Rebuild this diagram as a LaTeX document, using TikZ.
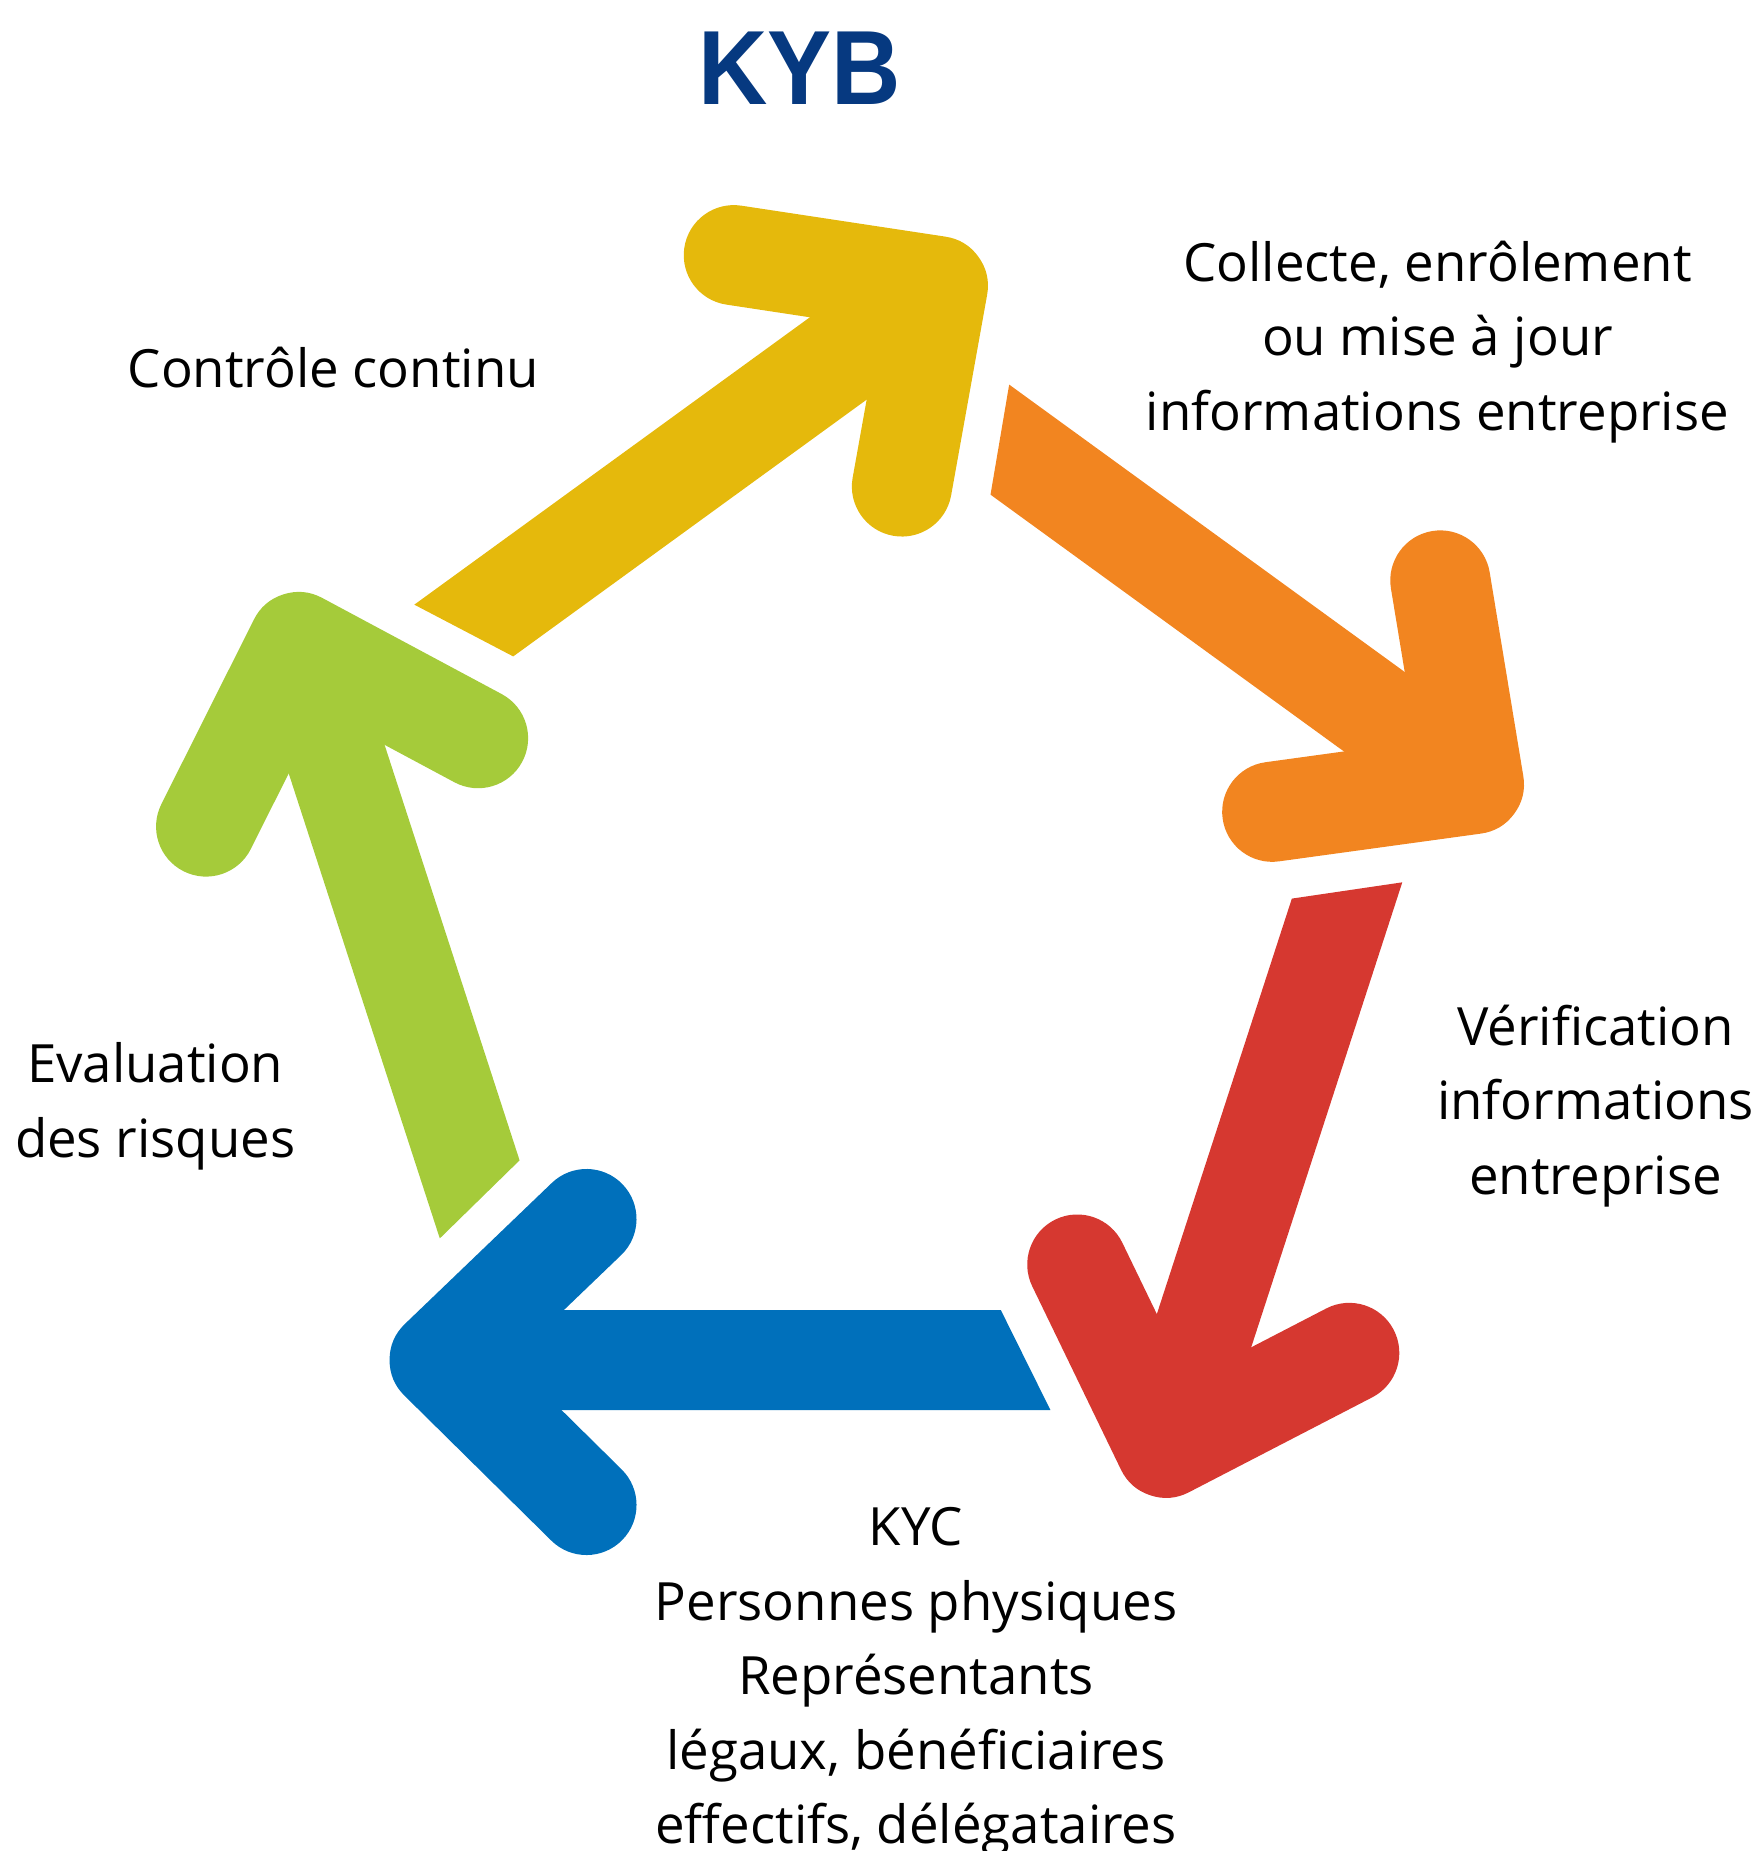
\documentclass[tikz,border=0pt]{standalone}
\usepackage{fontspec}
\setmainfont{Open Sans}
\newfontfamily\titlefont{Liberation Sans}[FakeStretch=0.91]
\definecolor{kybnavy}{RGB}{6,57,128}
\definecolor{kybblue}{RGB}{0,112,187}
\definecolor{kybred}{RGB}{214,56,48}
\definecolor{kyborange}{RGB}{242,133,32}
\definecolor{kybyellow}{RGB}{229,185,12}
\definecolor{kybgreen}{RGB}{165,203,58}

\begin{document}
\begin{tikzpicture}[x=0.01cm, y=0.01cm,
    steptext/.style={align=center, inner sep=0pt, font=\fontsize{15}{21.2}\selectfont},
    arrowarm/.style={line width=1cm, line cap=round, line join=round}]
    \useasboundingbox (-863.2,-947) rectangle (898.8,904);

    % Arrows: one shape, turned by 72 degrees for each step
    \foreach \ang/\col in {0/kybblue, 72/kybred, 144/kyborange, 216/kybyellow, 288/kybgreen} {
        \begin{scope}[rotate=\ang]
            \fill[\col] (-423.6,-406) -- (137.6,-406) -- (187.2,-506) -- (-423.6,-506) -- cycle;
            \draw[arrowarm, \col] (-276.7,-315) -- (-423.6,-456) -- (-276.7,-601);
        \end{scope}
    }

    % Title
    \node[font=\titlefont\bfseries\fontsize{30}{30}\selectfont, text=kybnavy] (title) at (-63.2,835.5) {KYB};

    % Steps
    \node[steptext] (collect) at (574.3,562) {Collecte, enrôlement\\ou mise à jour\\informations entreprise};
    \node[steptext] (verif) at (732.4,-202) {Vérification\\informations\\entreprise};
    \node[steptext] (kyc) at (52.8,-778) {KYC\\Personnes physiques\\Représentants\\légaux, bénéficiaires\\effectifs, délégataires};
    \node[steptext] (risk) at (-708,-202.5) {Evaluation\\des risques};
    \node[steptext] (monitor) at (-529.8,536) {Contrôle continu};
\end{tikzpicture}
\end{document}
